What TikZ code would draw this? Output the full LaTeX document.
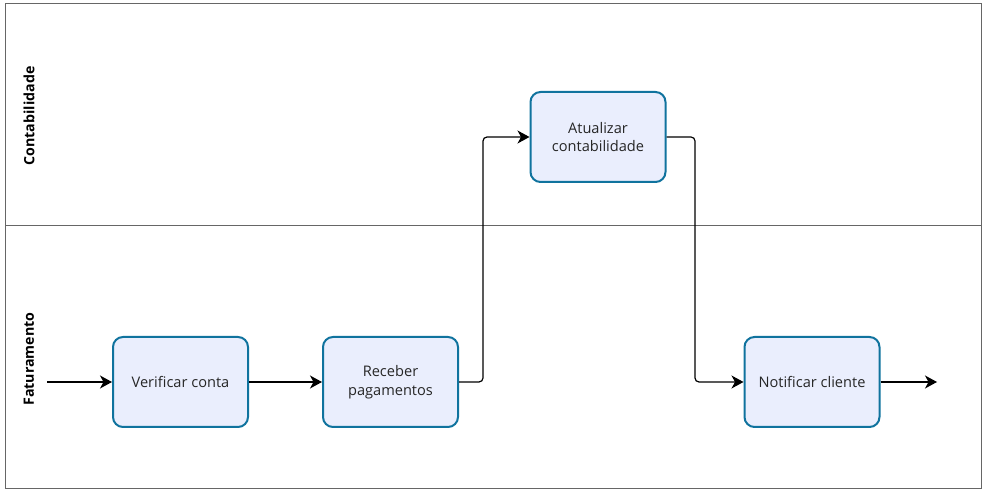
\documentclass[tikz,border=0pt]{standalone}
\usepackage{fontspec}
\setmainfont{Open Sans}
\usetikzlibrary{arrows.meta}
\definecolor{boxline}{HTML}{10739E}
\definecolor{boxfill}{HTML}{EAEEFD}
\definecolor{frameline}{HTML}{666666}
\tikzset{
  task/.style={draw=boxline, fill=boxfill, line width=2pt, rounded corners=10pt,
    minimum width=135pt, minimum height=90pt, align=center, inner sep=2pt,
    font=\fontsize{14.6}{18.5}\selectfont, text=black!85},
  flow/.style={draw=black, line width=1.2pt, rounded corners=4pt,
    -{Stealth[length=12pt, width=13pt, inset=3.5pt]}},
  lanelabel/.style={rotate=90, font=\bfseries\fontsize{14.2}{17}\selectfont},
  frame/.style={draw=frameline, line width=1pt}
}
\begin{document}
\begin{tikzpicture}[x=1pt, y=-1pt]
\useasboundingbox (0,0) rectangle (986,502);
\draw[frame] (5,4) rectangle (981,489);
\draw[frame] (5,226) -- (981,226);
\node[lanelabel] (lc) at (29,116) {Contabilidade};
\node[lanelabel] (lf) at (29,359) {Faturamento};
\node[task] (v) at (180.5,382) {Verificar conta};
\node[task] (r) at (390.5,382) {Receber\\pagamentos};
\node[task] (a) at (598,137) {Atualizar\\contabilidade};
\node[task] (n) at (812,382) {Notificar cliente};
\coordinate (s) at (47,382);
\coordinate (e) at (937,382);
\draw[flow] (s) -- (v);
\draw[flow] (v) -- (r);
\draw[flow] (r.east) -- (483,382) -- (483,137) -- (a.west);
\draw[flow] (a.east) -- (695,137) -- (695,382) -- (n.west);
\draw[flow] (n) -- (e);
\end{tikzpicture}
\end{document}
